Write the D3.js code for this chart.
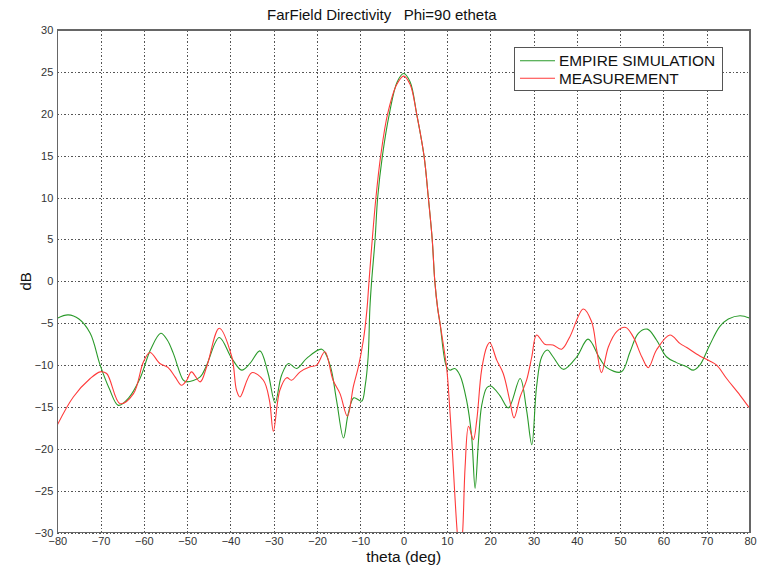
<!DOCTYPE html>
<html>
<head>
<meta charset="utf-8">
<script src="https://cdn.jsdelivr.net/npm/d3@7"></script>
<style>
  html, body { margin: 0; padding: 0; background: #fff; }
  svg { display: block; font-family: "Liberation Sans", Arial, sans-serif; }
</style>
</head>
<body>
<svg id="chart" width="763" height="570"></svg>
<script>
// Far-field directivity cut, phi = 90 deg, E-theta component
const thetaTicks = [-80, -70, -60, -50, -40, -30, -20, -10, 0, 10, 20, 30, 40, 50, 60, 70, 80];
const dbTicks = [-30, -25, -20, -15, -10, -5, 0, 5, 10, 15, 20, 25, 30];
const seriesNames = ["EMPIRE SIMULATION", "MEASUREMENT"];

// EMPIRE simulation: theta (deg) and directivity (dB)
const simTheta = [-80, -77.5, -75, -72.4, -70.1, -68, -65.9, -63.5, -60.9, -58.5, -56.1, -54.6, -53.2, -50.9, -50.1,
  -47, -45.5, -42.6, -39.7, -37.4, -35.5, -33.2, -31.3, -29.7, -28.2, -26.6, -24.7, -22.4, -18.9, -17,
  -15.5, -13.9, -12.8, -11.5, -9.7, -8.9, -8.2, -7.8, -7.4, -6.6, -6, -4.9, -3.3, -1.5, 0,
  1.5, 3, 4.7, 5.7, 6.6, 7.2, 7.85, 8.4, 9.9, 10.7, 11.8, 13, 14.5, 15.7, 16.5,
  17.3, 18, 19.2, 20.1, 22.2, 24.2, 26.9, 28.4, 29.6, 30.7, 31.9, 33.2, 34.5, 36.9, 40,
  42.6, 45.3, 46.9, 50.3, 52.3, 54.2, 56.3, 58.4, 60.7, 63, 65.4, 66.9, 68.4, 70.7, 73,
  75, 77.7, 80];
const simDb = [-4.4, -4.0, -4.5, -6.2, -10.0, -12.8, -14.8, -13.9, -11.6, -8.2, -6.2, -7.0, -8.6, -11.8, -12.0,
  -11.4, -10.0, -6.7, -9.2, -10.6, -9.8, -8.3, -11.0, -14.5, -11.2, -9.8, -10.4, -9.2, -8.1, -10.0,
  -14.2, -18.7, -15.8, -13.9, -14.3, -12.5, -9.0, -3.2, 0, 5, 10, 15, 20, 23.8, 24.8,
  23.8, 20, 15, 10, 5, 0, -3.2, -5, -10.2, -10.6, -10.4, -11.2, -14.1, -18.5, -24.7,
  -18.9, -14.9, -12.7, -12.5, -13.6, -15.1, -11.6, -15.4, -19.5, -12.6, -9.0, -8.2, -9.0, -10.5, -9.0,
  -6.9, -9.2, -10.3, -10.8, -8.4, -6.2, -5.7, -7.0, -9.0, -9.7, -10.2, -10.6, -10.0, -7.6, -5.4,
  -4.5, -4.1, -4.4];

// Measurement: theta (deg) and directivity (dB)
const measTheta = [-80, -76.3, -72.4, -70.1, -68.6, -65.5, -62.4, -60.1, -58.6, -56.3, -54.4, -52.8, -51.3, -50.1, -49,
  -47, -45.5, -42.6, -39.7, -38.6, -37.8, -35.1, -32.4, -31, -30.1, -28.6, -27, -25.9, -23.9, -21.6,
  -20.1, -18.2, -16.3, -14.7, -13, -11.6, -10.5, -9.3, -8.5, -8, -7.25, -6.4, -5.3, -3.7, -1.6,
  0, 1.5, 3, 4.7, 5.7, 6.6, 7.2, 7.85, 8.4, 9.9, 10.3, 11.1, 11.8, 12.4, 13,
  13.6, 14.2, 15, 16.1, 16.9, 18, 19.2, 19.9, 21.5, 23, 24.5, 25.5, 26.9, 28.4, 29.6,
  30.7, 32.6, 34.5, 36.5, 38.4, 41.5, 43.4, 44.6, 45.7, 47.3, 49.2, 51.3, 53, 55, 56.5,
  58.4, 61.5, 63.8, 65.4, 68.4, 70.7, 72.3, 74.6, 77.7, 80];
const measDb = [-17.15, -13.8, -11.6, -10.8, -11.0, -14.6, -13.4, -9.6, -8.5, -9.8, -10.3, -11.4, -12.4, -11.8, -10.8,
  -12.0, -10.2, -5.6, -9.0, -13.0, -13.8, -10.9, -11.8, -14.2, -17.9, -13.0, -11.5, -11.8, -10.8, -10.2,
  -10.0, -8.4, -11.8, -13.4, -16.1, -12.5, -10.3, -7.0, -3.5, 0, 5, 10, 15, 20, 23.5,
  24.5, 23.5, 20, 15, 10, 5, 0, -3.2, -5, -10.2, -12.5, -18.9, -25.3, -30.1, -33,
  -30.1, -22.1, -17.3, -18.9, -16.5, -10.6, -7.8, -7.3, -9.4, -11.0, -14.2, -16.3, -13.8, -11.8, -9.0,
  -6.4, -7.5, -7.6, -8.1, -6.6, -3.3, -4.8, -8.2, -10.9, -7.8, -6.0, -5.5, -6.6, -9.0, -10.3,
  -8.2, -6.4, -7.4, -7.9, -8.9, -9.5, -10.0, -11.6, -13.6, -15.2];

const colors = ["#2a9a2a", "#ff3a3a"];

const W = 763, H = 570;
const margin = { left: 57.3, right: 13, top: 30, bottom: 37.3 };
const innerW = W - margin.left - margin.right;
const innerH = H - margin.top - margin.bottom;

const svg = d3.select("#chart");
const g = svg.append("g").attr("transform", `translate(${margin.left},${margin.top})`);

const x = d3.scaleLinear().domain([-80, 80]).range([0, innerW]);
const y = d3.scaleLinear().domain([-30, 30]).range([innerH, 0]);

// dotted grid
const gridX = g.append("g").attr("transform", `translate(0,${innerH})`)
  .call(d3.axisBottom(x).tickValues(thetaTicks).tickSize(-innerH).tickFormat(""));
const gridY = g.append("g")
  .call(d3.axisLeft(y).tickValues(dbTicks).tickSize(-innerW).tickFormat(""));
[gridX, gridY].forEach(a => {
  a.select(".domain").remove();
  a.selectAll(".tick line").attr("stroke", "#555").attr("stroke-width", 1)
    .attr("stroke-dasharray", "1.5,2").attr("shape-rendering", "crispEdges");
});

// tick labels
const axX = g.append("g").attr("transform", `translate(0,${innerH})`)
  .call(d3.axisBottom(x).tickValues(thetaTicks).tickSize(0).tickPadding(5).tickFormat(d3.format("d")));
const axY = g.append("g")
  .call(d3.axisLeft(y).tickValues(dbTicks).tickSize(0).tickPadding(4).tickFormat(d3.format("d")));
[axX, axY].forEach(a => {
  a.select(".domain").remove();
  a.selectAll(".tick text").attr("fill", "#333").style("font-size", "11px")
    .style("font-family", "'Liberation Sans', Arial, sans-serif");
});

// plot clip
svg.append("defs").append("clipPath").attr("id", "plotClip")
  .append("rect").attr("width", innerW).attr("height", innerH);

const line = d3.line()
  .x(d => x(d[0])).y(d => y(d[1]))
  .curve(d3.curveCatmullRom.alpha(0.5));

const series = [
  d3.zip(simTheta, simDb),
  d3.zip(measTheta, measDb)
];

const plot = g.append("g").attr("clip-path", "url(#plotClip)");
series.forEach((s, i) => {
  plot.append("path").datum(s)
    .attr("fill", "none")
    .attr("stroke", colors[i])
    .attr("stroke-width", 1.1)
    .attr("stroke-linejoin", "round")
    .attr("d", line);
});

// frame
g.append("rect").attr("width", innerW).attr("height", innerH)
  .attr("fill", "none").attr("stroke", "#666").attr("stroke-width", 1.2)
  .attr("shape-rendering", "crispEdges");

// title and axis labels
svg.append("text").attr("x", 267).attr("y", 20)
  .attr("text-anchor", "start").style("font-size", "15px").style("white-space", "pre")
  .attr("fill", "#111").text("FarField Directivity   Phi=90 etheta");
svg.append("text").attr("x", margin.left + innerW / 2).attr("y", 562)
  .attr("text-anchor", "middle").style("font-size", "15.5px")
  .attr("fill", "#111").text("theta (deg)");
svg.append("text").attr("transform", `translate(31,${margin.top + innerH / 2}) rotate(-90)`)
  .attr("text-anchor", "middle").style("font-size", "15px")
  .attr("fill", "#111").text("dB");

// legend
const lg = svg.append("g").attr("transform", "translate(514.5,47.5)");
lg.append("rect").attr("width", 208).attr("height", 43)
  .attr("fill", "#fff").attr("stroke", "#555").attr("stroke-width", 1);
seriesNames.forEach((name, i) => {
  const yy = 13.2 + i * 17.6;
  lg.append("line").attr("x1", 5.5).attr("x2", 40.5).attr("y1", yy).attr("y2", yy)
    .attr("stroke", colors[i]).attr("stroke-width", 1.1);
  lg.append("text").attr("x", 44.5).attr("y", yy + 5.6)
    .style("font-size", "15.4px").attr("fill", "#111").text(name);
});
</script>
</body>
</html>
